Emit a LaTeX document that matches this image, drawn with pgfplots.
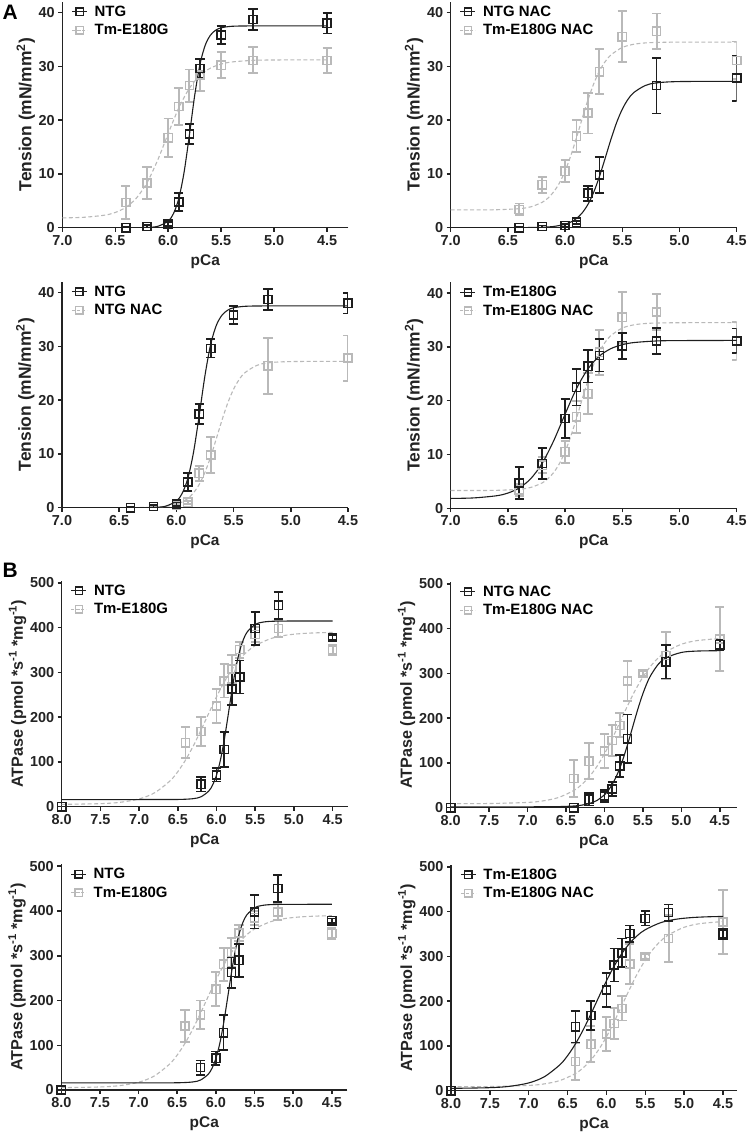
\documentclass[border=0pt]{standalone}
\usepackage{fontspec}
\setmainfont{Liberation Sans}
\usepackage{pgfplots}
\usepackage{pgfplotstable}
\pgfplotsset{compat=1.18}
\definecolor{blk}{RGB}{30,30,30}
\definecolor{gry}{RGB}{185,185,185}
\definecolor{axc}{RGB}{35,35,35}
\newcommand\ticksz{\bfseries\fontsize{14.5}{16}\selectfont}
\newcommand\labsz{\bfseries\fontsize{15.5}{17}\selectfont}
\newcommand\legsz{\bfseries\fontsize{15}{17}\selectfont}

% ---------- data points (x = pCa, y = mean, e = SEM) ----------
\pgfplotstableread{
x y e
6.4 0.0 0.2
6.2 0.2 0.3
6.0 0.7 0.4
5.9 4.8 1.7
5.8 17.4 1.9
5.7 29.6 1.7
5.5 35.8 1.7
5.2 38.7 2.0
4.5 38.0 1.9
}\ANTG
\pgfplotstableread{
x y e
6.4 4.7 3.0
6.2 8.3 2.9
6.0 16.7 3.6
5.9 22.5 3.4
5.8 26.4 3.0
5.7 28.4 3.0
5.5 30.2 2.4
5.2 31.1 2.4
4.5 31.1 2.3
}\ATM
\pgfplotstableread{
x y e
6.4 0.0 0.2
6.2 0.2 0.2
6.0 0.4 0.3
5.9 1.0 0.3
5.8 6.4 1.4
5.7 9.8 3.4
5.2 26.4 5.2
4.5 27.8 4.2
}\ANTGNAC
\pgfplotstableread{
x y e
6.4 3.4 1.1
6.2 8.0 1.5
6.0 10.5 2.0
5.9 17.0 3.0
5.8 21.3 3.8
5.7 29.0 4.2
5.5 35.5 4.7
5.2 36.5 3.3
4.5 31.1 3.5
}\ATMNAC
\pgfplotstableread{
x y e
8.0 0 0
6.2 50 16
6.0 71 15
5.9 128 39
5.8 263 35
5.7 290 37
5.5 398 37
5.2 450 30
4.5 378 5
}\BNTG
\pgfplotstableread{
x y e
8.0 0 0
6.4 143 35
6.2 168 32
6.0 225 38
5.9 281 37
5.8 308 32
5.7 351 18
5.5 385 16
5.2 398 18
4.5 350 12
}\BTM
\pgfplotstableread{
x y e
8.0 0 0
6.4 0 3
6.2 19 14
6.0 26 14
5.9 42 16
5.8 93 25
5.7 154 54
5.2 326 37
4.5 364 12
}\BNTGNAC
\pgfplotstableread{
x y e
8.0 0 0
6.4 65 42
6.2 104 40
6.0 127 38
5.9 150 35
5.8 184 27
5.7 283 44
5.5 300 5
5.2 340 52
4.5 377 71
}\BTMNAC

% ---------- fitted curves ----------
\pgfplotstableread{
x y
7.0 0
6.8 0
6.6 0
6.4 0
6.3 0.01
6.2 0.05
6.1 0.25
6.0 1.23
5.95 2.64
5.9 5.44
5.85 10.33
5.8 17.24
5.75 24.59
5.7 30.39
5.65 33.95
5.6 35.82
5.55 36.73
5.5 37.15
5.4 37.43
5.2 37.5
4.5 37.5
}\cANTG
\pgfplotstableread{
x y
7.0 1.83
6.8 1.93
6.6 2.33
6.5 2.83
6.4 3.79
6.3 5.51
6.2 8.38
6.1 12.54
6.0 17.51
5.9 22.27
5.8 25.92
5.7 28.30
5.6 29.67
5.5 30.41
5.4 30.80
5.2 31.10
5.0 31.17
4.5 31.2
}\cATM
\pgfplotstableread{
x y
7.0 0
6.8 0
6.6 0
6.4 0.01
6.2 0.08
6.1 0.23
6.0 0.64
5.95 1.05
5.9 1.72
5.85 2.77
5.8 4.35
5.75 6.59
5.7 9.50
5.65 12.90
5.6 16.38
5.55 19.52
5.5 22.03
5.45 23.87
5.4 25.11
5.3 26.42
5.2 26.92
5.0 27.16
4.5 27.2
}\cANTGNAC
\pgfplotstableread{
x y
7.0 3.30
6.8 3.31
6.6 3.34
6.4 3.54
6.3 3.88
6.2 4.72
6.15 5.50
6.1 6.65
6.05 8.29
6.0 10.54
5.95 13.40
5.9 16.76
5.85 20.33
5.8 23.76
5.75 26.74
5.7 29.11
5.65 30.86
5.6 32.10
5.5 33.50
5.4 34.09
5.3 34.34
5.2 34.43
5.0 34.49
4.5 34.5
}\cATMNAC
\pgfplotstableread{
x y
8.0 16
7.5 16
7.0 16
6.5 16.2
6.3 18.0
6.2 22.2
6.1 35.0
6.05 48.6
6.0 70.6
5.95 103.7
5.9 149.2
5.85 204.0
5.8 260.6
5.75 310.5
5.7 348.6
5.65 374.7
5.6 391.3
5.5 407.2
5.4 412.5
5.2 414.7
4.5 415
}\cBNTG
\pgfplotstableread{
x y
8.0 5.25
7.5 6.80
7.25 9.74
7.0 17.37
6.8 31.07
6.6 57.78
6.5 78.25
6.4 104.3
6.3 135.7
6.2 171.3
6.1 208.8
6.0 245.5
5.9 278.7
5.8 307.0
5.7 329.7
5.6 347.0
5.5 359.9
5.3 375.6
5.1 383.3
4.9 386.9
4.7 388.6
4.5 389.4
}\cBTM
\pgfplotstableread{
x y
8.0 2.0
7.0 2.0
6.6 2.46
6.4 3.82
6.3 5.62
6.2 9.14
6.1 15.97
6.0 28.8
5.95 38.7
5.9 51.7
5.85 68.3
5.8 88.8
5.75 113.2
5.7 140.8
5.65 170.4
5.6 200.4
5.55 229.1
5.5 254.9
5.45 277.0
5.4 295.2
5.3 320.6
5.2 335.0
5.0 346.9
4.8 350.0
4.5 350.9
}\cBNTGNAC
\pgfplotstableread{
x y
8.0 9.05
7.5 9.38
7.0 11.81
6.8 15.23
6.6 22.66
6.4 38.26
6.3 51.13
6.2 68.66
6.1 91.68
6.0 120.4
5.9 154.1
5.8 190.8
5.7 227.7
5.6 262.3
5.5 292.0
5.4 316.2
5.3 334.8
5.2 348.5
5.0 365.2
4.8 373.3
4.5 378.0
}\cBTMNAC

\pgfplotsset{
  panel/.style={
    scale only axis, width=286bp, height=226bp,
    x dir=reverse, axis lines=left,
    axis line style={-, line width=1.5bp, draw=axc},
    tick align=outside, major tick length=4bp,
    every tick/.style={line width=1.5bp, draw=axc},
    tick label style={font=\ticksz, text=axc},
    /pgf/number format/assume math mode=true,
    xticklabel style={/pgf/number format/.cd, fixed, fixed zerofill, precision=1},
    yticklabel style={/pgf/number format/.cd, fixed, precision=0},
    xlabel={pCa},
    xlabel style={font=\labsz, text=axc, yshift=-2bp},
    ylabel style={text=axc, xshift=0bp, yshift=-3bp},
    legend cell align=left,
    legend style={draw=none, fill=none, at={(0,1)}, anchor=north west,
      xshift=6bp, yshift=0bp, font=\legsz, row sep=2.5bp,
      nodes={inner sep=2bp}},
    legend image code/.code={\draw[mark repeat=2,mark phase=2,##1] plot coordinates {(0bp,0bp) (7.5bp,0bp) (15bp,0bp)}; \path (20bp,0bp);},
  },
  panelA/.style={panel, xmax=7.0, ymin=0, ymax=42,
    xtick={4.5,5.0,5.5,6.0,6.5,7.0}, ytick={0,10,20,30,40},
    ylabel={Tension (mN/mm\textsuperscript{2})},
    ylabel style={font=\bfseries\fontsize{17.5}{19}\selectfont}},
  panelB/.style={panel, xmax=8.0, ymin=0, ymax=505,
    xtick={4.5,5.0,5.5,6.0,6.5,7.0,7.5,8.0}, ytick={0,100,200,300,400,500},
    ylabel={ATPase (pmol *s\textsuperscript{-1} *mg\textsuperscript{-1})},
    ylabel style={font=\bfseries\fontsize{16.2}{18}\selectfont}},
  blkcurve/.style={draw=blk, line width=1.1bp, smooth, no markers},
  grycurve/.style={draw=gry, line width=1.1bp, smooth, no markers, dash pattern=on 4bp off 2.5bp},
  blkpts/.style={only marks, mark=square, mark size=4.1bp,
    mark options={draw=blk, line width=1.5bp, solid, fill=none},
    error bars/.cd, y dir=both, y explicit,
    error bar style={draw=blk, line width=1.7bp, solid},
    error mark options={rotate=90, mark size=4.6bp, line width=1.7bp, draw=blk, solid},
    /pgfplots/.cd},
  grypts/.style={only marks, mark=square, mark size=4.1bp,
    mark options={draw=gry, line width=1.5bp, solid, fill=none},
    error bars/.cd, y dir=both, y explicit,
    error bar style={draw=gry, line width=1.9bp, solid},
    error mark options={rotate=90, mark size=4.6bp, line width=1.9bp, draw=gry, solid},
    /pgfplots/.cd},
  blkleg/.style={draw=blk, line width=1.2bp, mark=square, mark size=3.7bp, mark options={solid, line width=1.5bp, fill=none}},
  gryleg/.style={draw=gry, line width=1.2bp, dash pattern=on 3bp off 2bp, mark=square, mark size=3.7bp, mark options={solid, line width=1.5bp, fill=none}},
}
\newcommand{\series}[4]{% gray curve, gray pts, black curve, black pts
  \addplot[forget plot, grycurve] table[x=x,y=y] {#1};
  \addplot[forget plot, grypts] table[x=x,y=y,y error=e] {#2};
  \addplot[forget plot, blkcurve] table[x=x,y=y] {#3};
  \addplot[forget plot, blkpts] table[x=x,y=y,y error=e] {#4};
}
\newcommand{\leg}[2]{%
  \addlegendimage{blkleg}\addlegendentry{#1}
  \addlegendimage{gryleg}\addlegendentry{#2}
}

\begin{document}
\begin{tikzpicture}
\path[use as bounding box] (0,0) rectangle (749bp,-1134bp);
\node[anchor=north west, inner sep=0, font=\bfseries\fontsize{21}{23}\selectfont] at (2.5bp,-5bp) {A};
\node[anchor=north west, inner sep=0, font=\bfseries\fontsize{21}{23}\selectfont] at (2.5bp,-563bp) {B};

% ---- A: tension ----
\begin{axis}[panelA, at={(62.3bp,-227.7bp)}, anchor=south west, xmin=4.30]
\series{\cATM}{\ATM}{\cANTG}{\ANTG}
\leg{NTG}{Tm-E180G}
\end{axis}

\begin{axis}[panelA, at={(450.7bp,-227.7bp)}, anchor=south west, xmin=4.5]
\series{\cATMNAC}{\ATMNAC}{\cANTGNAC}{\ANTGNAC}
\leg{NTG NAC}{Tm-E180G NAC}
\end{axis}

\begin{axis}[panelA, at={(62bp,-507.7bp)}, anchor=south west, xmin=4.5]
\series{\cANTGNAC}{\ANTGNAC}{\cANTG}{\ANTG}
\leg{NTG}{NTG NAC}
\end{axis}

\begin{axis}[panelA, at={(450.7bp,-508.3bp)}, anchor=south west, xmin=4.5]
\series{\cATMNAC}{\ATMNAC}{\cATM}{\ATM}
\leg{Tm-E180G}{Tm-E180G NAC}
\end{axis}

% ---- B: ATPase ----
\begin{axis}[panelB, at={(61.7bp,-806.7bp)}, anchor=south west, xmin=4.305]
\series{\cBTM}{\BTM}{\cBNTG}{\BNTG}
\leg{NTG}{Tm-E180G}
\end{axis}

\begin{axis}[panelB, at={(450.7bp,-807.7bp)}, anchor=south west, xmin=4.28]
\series{\cBTMNAC}{\BTMNAC}{\cBNTGNAC}{\BNTGNAC}
\leg{NTG NAC}{Tm-E180G NAC}
\end{axis}

\begin{axis}[panelB, at={(61.3bp,-1090bp)}, anchor=south west, xmin=4.30]
\series{\cBTM}{\BTM}{\cBNTG}{\BNTG}
\leg{NTG}{Tm-E180G}
\end{axis}

\begin{axis}[panelB, at={(451bp,-1090.7bp)}, anchor=south west, xmin=4.32]
\series{\cBTMNAC}{\BTMNAC}{\cBTM}{\BTM}
\leg{Tm-E180G}{Tm-E180G NAC}
\end{axis}
\end{tikzpicture}
\end{document}
